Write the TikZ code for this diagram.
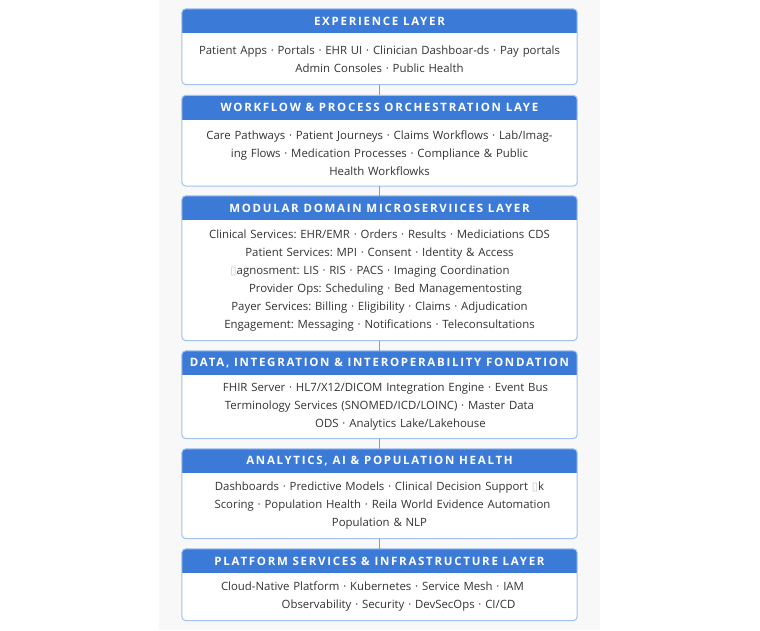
\documentclass[tikz,border=0pt]{standalone}
\usepackage{fontspec}
\setmainfont{Open Sans}
\newfontfamily\headfont[LetterSpace=15]{Open Sans}
\newfontfamily\symfont{DejaVu Sans}
\usepackage{tikz}
\usetikzlibrary{positioning,backgrounds}
\frenchspacing

\definecolor{panelgray}{HTML}{F8F8F8}
\definecolor{headblue}{HTML}{3B7AD6}
\definecolor{edgeblue}{HTML}{A3C1EE}
\definecolor{bodytext}{HTML}{333333}
\definecolor{linkgray}{HTML}{9A9A9A}

% broken glyph as printed
\newcommand{\tofu}{{\color{gray!45}\symfont\char"25AF}}
% line moved sideways inside a centred block
\newcommand{\nudge}[2]{\hspace*{#1pt}#2\hspace*{-#1pt}}

\begin{document}
\begin{tikzpicture}[x=1pt,y=1pt,
  layerhead/.style={rounded corners=4pt,minimum width=395pt,minimum height=24pt,inner sep=0pt,text=white,font=\headfont\bfseries\fontsize{11.5}{13}\selectfont},
  layerbody/.style={fill=white,minimum width=395pt,text width=385pt,inner sep=0pt,align=center,text=bodytext,font=\fontsize{11.4}{18}\selectfont},
  frame/.style={draw=edgeblue,line width=1pt,rounded corners=4pt},
  link/.style={draw=linkgray,line width=1.4pt}]
\useasboundingbox (0,0) rectangle (760,-630);

\path (379.5,-21) node[layerhead](exp-head) {EXPERIENCE LAYER};
\node[layerbody,minimum height=51pt,below=0pt of exp-head](exp-body) {Patient Apps · Portals · EHR UI · Clinician Dashboar-ds · Pay portals\\Admin Consoles · Public Health};

\path (379.5,-107.5) node[layerhead](wf-head) {WORKFLOW \& PROCESS ORCHESTRATION LAYE};
\node[layerbody,minimum height=66pt,below=0pt of wf-head](wf-body) {Care Pathways · Patient Journeys · Claims Workflows · Lab/Imag-\\ing Flows · Medication Processes · Compliance \& Public\\Health Workflowks};

\path (379.5,-208) node[layerhead](ms-head) {MODULAR DOMAIN MICROSERVIICES LAYER};
\node[layerbody,minimum height=120pt,below=0pt of ms-head](ms-body) {Clinical Services: EHR/EMR · Orders · Results · Mediciations CDS\\Patient Services: MPI · Consent · Identity \& Access\\\nudge{-19}{\tofu agnosment: LIS · RIS · PACS · Imaging Coordination}\\\nudge{12}{Provider Ops: Scheduling · Bed Managementosting}\\Payer Services: Billing · Eligibility · Claims · Adjudication\\Engagement: Messaging · Notifications · Teleconsultations};

\path (379.5,-363) node[layerhead](data-head) {DATA, INTEGRATION \& INTEROPERABILITY FONDATION};
\node[layerbody,minimum height=63pt,below=0pt of data-head](data-body) {\nudge{12}{FHIR Server · HL7/X12/DICOM Integration Engine · Event Bus}\\Terminology Services (SNOMED/ICD/LOINC) · Master Data\\\nudge{21}{ODS · Analytics Lake/Lakehouse}};

\path (379.5,-461) node[layerhead](ai-head) {ANALYTICS, AI \& POPULATION HEALTH};
\node[layerbody,minimum height=65pt,below=0pt of ai-head](ai-body) {Dashboards · Predictive Models · Clinical Decision Support \tofu k\\\nudge{6}{Scoring · Population Health · Reila World Evidence Automation}\\Population \& NLP};

\path (379.5,-561) node[layerhead](infra-head) {PLATFORM SERVICES \& INFRASTRUCTURE LAYER};
\node[layerbody,minimum height=47pt,below=0pt of infra-head](infra-body) {\nudge{-14}{Cloud-Native Platform · Kubernetes · Service Mesh · IAM}\\\nudge{19}{Observability · Security · DevSecOps · CI/CD}};

% panel and header fills go behind the texts
\begin{scope}[on background layer]
\fill[panelgray] (159,0) rectangle (600,-630);
\foreach \n in {exp,wf,ms,data,ai,infra}{
  \fill[headblue,rounded corners=4pt] (\n-head.south west) rectangle (\n-head.north east);
  \fill[headblue] (\n-head.west) rectangle (\n-head.south east);
}
\end{scope}
\foreach \n in {exp,wf,ms,data,ai,infra}
  \draw[frame] (\n-head.north west) rectangle (\n-body.south east);

\draw[link] (exp-body) -- (wf-head);
\draw[link] (wf-body) -- (ms-head);
\draw[link] (ms-body) -- (data-head);
\draw[link] (data-body) -- (ai-head);
\draw[link] (ai-body) -- (infra-head);

\end{tikzpicture}
\end{document}
